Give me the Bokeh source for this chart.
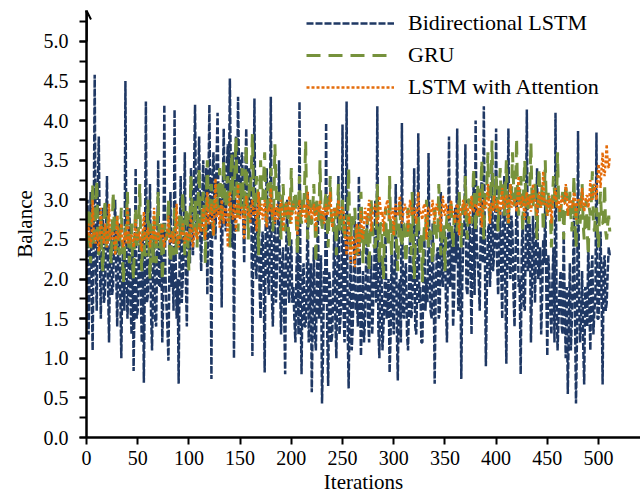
from bokeh.plotting import figure
from bokeh.models import (Range1d, SingleIntervalTicker, PrintfTickFormatter, Arrow,
                          OpenHead, Legend, LegendItem)
from bokeh.embed import file_html
from bokeh.resources import INLINE

# ---------------- data (one value per iteration) ----------------
bilstm = [
    2.5, 3.0, 1.3, 2.0, 3.1, 1.9, 1.1, 2.6, 4.58, 2.2, 1.6, 3.1, 3.8, 2.4, 1.5, 2.7,
    2.9, 1.7, 1.8, 2.5, 3.3, 2.0, 1.2, 2.3, 2.6, 1.8, 1.9, 2.6, 3.0, 2.1, 1.4, 2.4,
    2.7, 1.8, 1.0, 2.2, 2.4, 1.6, 4.5, 2.3, 1.5, 2.0, 2.9, 1.7, 1.3, 2.4, 0.84, 1.9,
    3.4, 1.5, 1.6, 2.2, 2.5, 1.8, 1.2, 2.5, 0.69, 2.1, 4.24, 1.7, 1.8, 2.4, 3.2, 1.6,
    1.1, 2.0, 2.6, 1.5, 1.4, 2.3, 3.5, 1.9, 1.9, 2.6, 1.2, 1.8, 4.2, 2.1, 1.7, 1.4,
    0.97, 2.2, 3.1, 1.9, 2.2, 1.6, 4.14, 2.3, 1.5, 2.0, 0.68, 2.4, 3.3, 1.7, 2.0, 2.5,
    3.6, 2.0, 1.4, 2.6, 2.8, 2.2,
    3.4, 2.9, 2.3, 3.3, 4.2, 2.7, 2.7, 3.2, 3.8, 2.6, 2.1, 3.0, 3.5, 2.8, 2.9, 3.4,
    1.8, 3.1, 4.2, 2.7, 0.74, 3.3, 3.6, 2.9, 2.5, 3.5, 4.1, 2.8, 3.0, 3.2, 1.64, 3.0,
    3.9, 2.9, 2.6, 3.4, 3.7, 3.0, 4.53, 3.2, 2.4, 3.6, 1.0, 2.9, 3.8, 3.1, 4.3, 3.3,
    2.8, 3.5, 3.6, 2.8, 2.2, 3.2, 3.9, 3.0, 2.7, 3.4, 3.3, 2.9,
    1.03, 2.6, 4.28, 2.2, 2.0, 2.8, 3.1, 1.9, 1.5, 2.4, 2.6, 2.0, 0.82, 2.7, 3.4, 2.1,
    1.8, 2.5, 4.3, 1.8, 1.4, 2.3, 2.9, 1.7, 2.1, 2.6, 3.5, 2.0, 1.3, 2.2, 2.4, 1.6,
    0.8, 2.4, 3.0, 1.9, 1.7, 2.3, 2.5, 1.7,
    1.9, 1.5, 1.2, 2.1, 2.6, 1.3, 4.24, 1.8, 0.8, 2.0, 2.2, 1.4, 1.4, 1.9, 3.1, 1.2,
    1.6, 2.2, 0.57, 1.6, 2.4, 1.3, 1.1, 2.0, 2.9, 1.5, 1.7, 2.3, 0.43, 1.1, 2.1, 1.7,
    3.97, 1.4, 0.65, 2.1, 1.9, 1.2, 1.3, 1.9, 2.7, 1.5, 1.0, 2.2, 3.3, 1.3, 1.5, 1.8,
    3.95, 1.6, 1.2, 2.0, 4.24, 1.4, 0.62, 1.7, 2.3, 1.1, 1.4, 2.1, 2.8, 1.6,
    1.8, 1.4, 3.3, 2.0, 1.03, 1.6, 2.1, 1.2, 1.5, 2.2, 2.8, 1.5, 1.2, 1.9, 2.3, 1.3,
    1.7, 2.1, 3.0, 1.7, 4.18, 1.4, 1.0, 2.3, 2.2, 1.1, 1.4, 1.8, 2.6, 1.5, 1.6, 2.0,
    0.82, 1.3, 2.4, 1.7, 1.3, 2.2, 3.2, 1.4, 0.72, 1.9, 2.0, 1.2, 3.97, 1.6, 1.5, 2.1,
    2.2, 1.3, 1.1, 1.8, 2.7, 1.5, 1.6, 2.2, 3.4, 1.4, 1.3, 1.9, 3.84, 1.7, 1.9, 1.2,
    1.2, 2.0, 2.5, 1.6,
    2.0, 1.7, 3.59, 2.2, 1.6, 1.5, 2.7, 2.0, 0.68, 1.8, 2.3, 2.4, 1.5, 1.6, 3.1, 2.1,
    1.9, 2.5, 2.6, 1.7, 1.2, 2.3, 3.8, 1.9, 2.1, 2.6, 1.4, 1.8, 2.9, 2.2, 3.9, 1.6,
    1.7, 2.4, 0.74, 2.0, 2.5, 2.7, 3.7, 1.9, 1.8, 2.3, 2.8, 2.1, 1.3, 2.6, 3.2, 1.8,
    4.0, 2.5, 2.2, 2.0, 1.6, 2.8, 3.4, 2.2, 4.18, 2.4, 0.9, 1.9, 2.6, 2.7, 1.9, 2.3,
    3.5, 2.1, 2.3, 2.6, 3.9, 2.2,
    1.8, 2.4, 2.9, 2.1, 1.5, 2.7, 3.3, 1.9, 0.93, 2.5, 3.9, 2.2, 2.0, 2.8, 2.6, 1.8,
    1.4, 2.3, 3.1, 2.6, 1.9, 2.0, 0.8, 2.4, 2.7, 1.7, 1.6, 2.5, 4.14, 2.1, 2.2, 2.7,
    1.2, 1.9, 2.8, 2.3, 1.7, 2.6, 3.4, 2.0, 2.1, 2.4, 1.3, 1.8, 2.5, 2.2, 3.0, 1.9,
    1.03, 2.3,
    2.0, 1.6, 1.3, 2.0, 2.4, 1.2, 4.1, 1.8, 1.1, 1.5, 1.9, 2.1, 1.4, 1.3, 2.6, 1.7,
    1.0, 1.9, 0.55, 1.4, 2.2, 1.1, 1.5, 2.0, 2.8, 1.6, 0.43, 1.3, 3.87, 1.8, 1.2, 1.5,
    2.1, 1.2, 0.67, 1.9, 1.8, 1.4, 2.5, 1.7, 1.1, 2.1, 2.3, 1.3, 1.6, 1.8, 3.85, 1.5,
    1.5, 2.0, 2.6, 1.8, 0.67, 2.2, 2.3, 1.6, 1.7, 2.1, 2.4, 2.3,
]

gru = [
    2.4, 2.7, 2.9, 2.5, 2.2, 2.8, 3.2, 2.4, 2.6, 2.9, 3.25, 2.6, 2.3, 2.5, 2.8, 2.3,
    2.1, 2.7, 3.0, 2.4, 2.5, 2.8, 2.7, 2.5, 2.2, 2.6, 3.1, 2.7, 2.4, 2.3, 2.8, 2.6,
    2.3, 2.6, 2.9, 2.4, 1.95, 2.3, 2.6, 2.7, 3.1, 2.5, 2.2, 2.4, 2.7, 2.2, 2.0, 2.6,
    2.9, 2.5, 2.4, 2.7, 3.2, 2.4, 2.1, 2.6, 2.6, 2.3, 2.3, 2.5, 3.0, 2.4, 2.0, 2.7,
    2.5, 2.2, 2.8, 2.5, 2.2, 2.6, 3.1, 2.4, 2.4, 2.7, 1.98, 2.3, 2.7, 2.5, 2.5, 2.6,
    3.0, 2.4, 2.2, 2.5, 2.6, 2.3, 2.9, 2.6, 2.3, 2.5, 2.7, 2.8,
    2.5, 2.7, 3.1, 2.6, 2.3, 2.8, 2.9, 2.5, 2.1, 2.7, 3.3, 2.9, 2.7, 2.6, 3.0, 2.8,
    2.4, 3.0, 3.4, 2.7, 2.6, 2.9, 3.1, 2.8, 2.2, 3.0, 3.5, 2.9, 2.8, 3.1, 3.2, 2.8,
    2.5, 3.0, 3.0, 3.2, 2.9, 2.9, 3.4, 3.1,
    2.7, 3.1, 3.5, 3.0, 2.9, 3.2, 3.3, 2.9, 2.4, 3.3, 3.6, 3.1, 3.0, 3.4, 3.8, 3.0,
    2.6, 3.2, 3.2, 2.9, 3.4, 3.1, 2.8, 3.3, 3.7, 3.0, 2.5, 3.2, 3.1, 3.4, 3.83, 3.1,
    2.9, 3.0, 3.3, 3.2, 2.3, 2.9, 3.5, 3.1, 3.0, 3.3, 3.6, 3.0, 2.7, 3.2, 3.2, 2.9,
    3.4, 3.1, 2.6, 3.0, 3.7, 3.2, 2.9, 2.8, 3.1, 3.0, 2.5, 2.9,
    3.2, 2.9, 2.6, 3.0, 3.0, 2.7, 2.4, 2.9, 3.4, 2.8, 2.8, 3.1, 3.1, 2.7, 2.3, 2.9,
    3.3, 2.8, 2.7, 3.0, 2.9, 3.2, 3.74, 2.9, 2.5, 2.8, 3.0, 2.7, 2.7, 2.9, 3.2, 2.8,
    2.2, 3.0, 2.9, 2.7, 3.5, 2.9, 2.6, 2.8, 2.8, 3.0, 3.1, 2.7, 2.4, 2.9, 3.3, 2.8,
    2.7, 2.6, 2.9, 2.8, 2.3, 2.9, 3.2, 2.7, 2.6, 2.8, 3.0, 2.6, 2.5, 2.8, 2.8, 2.7,
    3.4, 2.6, 2.4, 2.8, 2.7, 2.7,
    2.9, 2.6, 2.3, 2.5, 2.7, 2.4, 3.1, 2.7, 2.2, 2.6, 2.6, 2.4, 2.8, 2.5, 2.1, 2.6,
    3.0, 2.7, 2.5, 2.4, 2.4, 2.6, 3.2, 2.5, 2.2, 2.7, 2.7, 2.3, 2.0, 2.6, 2.9, 2.5,
    2.6, 2.4, 3.3, 2.6, 2.3, 2.7, 2.5, 2.5, 2.8, 2.4, 2.1, 2.6, 3.0, 2.5, 2.4, 2.7,
    2.7, 2.4, 2.2, 2.6, 2.9, 2.5, 2.6, 2.3, 3.1, 2.6, 2.0, 2.4, 2.5, 2.7, 2.8, 2.5,
    2.3, 2.6, 1.96, 2.4, 2.7, 2.5, 3.0, 2.7, 2.4, 2.6, 2.6, 2.4, 2.2, 2.5, 2.9, 2.7,
    2.5, 2.6, 3.2, 2.8, 2.3, 2.5, 2.7, 2.7, 2.1, 2.6, 2.8, 2.8, 2.6, 2.7, 3.0, 2.6,
    2.4, 2.8, 2.7, 2.7,
    2.6, 2.8, 3.1, 2.7, 2.4, 2.9, 2.9, 2.8, 3.3, 2.7, 2.5, 3.0, 3.0, 2.8, 2.7, 2.9,
    3.4, 3.0, 2.6, 2.9, 3.2, 2.8, 2.8, 3.1, 3.5, 2.9, 2.5, 3.0, 3.1, 3.2, 3.6, 2.9,
    2.7, 3.1, 3.75, 3.0, 2.9, 3.2, 3.3, 2.9, 2.6, 3.1, 3.4, 3.0, 3.0, 3.2, 2.8, 3.1,
    3.5, 2.9, 2.7, 3.1, 3.2, 3.0, 3.6, 3.2, 2.9, 3.1, 3.78, 3.0,
    2.8, 3.1, 3.3, 3.0, 2.6, 3.2, 3.5, 2.9, 3.1, 3.0, 2.7, 3.2, 3.72, 3.0, 2.9, 3.1,
    3.2, 2.8, 2.5, 3.1, 3.4, 2.9, 3.0, 3.2, 2.6, 3.0, 3.5, 2.9, 2.8, 3.1, 3.1, 2.8,
    2.4, 3.0, 3.3, 3.1, 2.9, 2.9, 3.6, 3.0, 2.7, 2.8, 3.0, 3.1, 2.5, 2.9, 3.2, 3.0,
    2.8, 2.9,
    3.1, 2.8, 2.6, 2.9, 3.3, 2.7, 2.4, 2.8, 2.9, 3.0, 2.7, 2.9, 3.2, 2.7, 2.5, 2.8,
    3.0, 2.6, 2.3, 2.9, 2.8, 3.0, 3.36, 2.7, 2.6, 2.8, 2.9, 2.6, 2.4, 2.9, 3.1, 2.7,
    2.7, 2.8, 3.2, 2.6, 2.5, 2.7, 2.8, 2.6,
]

attention = [
    2.5, 2.6, 2.7, 2.5, 2.4, 2.55, 3.0, 2.6, 2.5, 2.45, 2.6, 2.5, 2.35, 2.6, 2.9, 2.55,
    2.5, 2.45, 2.7, 2.6, 2.4, 2.5, 2.95, 2.55, 2.5, 2.6, 2.6, 2.45, 2.3, 2.55, 2.8, 2.5,
    2.5, 2.6, 2.7, 2.5, 2.4, 2.55, 2.6, 2.45, 2.9, 2.6, 2.45, 2.55, 2.55, 2.5, 2.4, 2.6,
    2.75, 2.5, 2.5, 2.55, 2.6, 2.45, 2.35, 2.6, 2.85, 2.5, 2.5, 2.55, 2.65, 2.5, 2.4, 2.6,
    2.55, 2.5, 2.9, 2.6, 2.45, 2.55, 2.6, 2.5, 2.5, 2.6, 2.7, 2.5, 2.4, 2.55, 2.55, 2.6,
    2.8, 2.5, 2.45, 2.55, 2.6, 2.45, 2.5, 2.6, 2.95, 2.5, 2.4, 2.55, 2.55, 2.6, 2.7, 2.5,
    2.45, 2.55, 2.6, 2.5, 2.5, 2.6, 2.8, 2.5, 2.4, 2.55, 2.65, 2.6, 2.5, 2.55, 2.7, 2.6,
    2.6, 2.7, 2.9, 2.65, 2.5, 2.8, 3.1, 2.7, 2.7, 2.85, 2.95, 2.75, 2.55, 2.9, 3.27, 2.8,
    2.8, 2.9, 2.65, 2.85,
    3.0, 2.85, 2.7, 2.9, 2.9, 2.8, 2.4, 2.85, 3.1, 2.9, 2.8, 2.75, 2.95, 2.85, 2.6, 2.95,
    3.2, 2.8, 2.75, 2.9, 2.9, 2.85, 2.5, 2.8, 3.05, 2.9, 2.8, 2.85, 2.7, 2.95, 3.0, 2.8,
    2.85, 2.9, 2.6, 2.85, 3.1, 2.8, 2.9, 2.95, 2.75, 2.85, 3.0, 2.8, 2.65, 2.9, 2.9, 2.85,
    3.15, 2.8, 2.8, 2.9, 2.7, 2.85, 2.95, 2.75, 2.85, 2.9, 3.0, 2.85, 2.6, 2.8, 2.9, 2.95,
    2.8, 2.85, 3.05, 2.8, 2.7, 2.9, 2.95, 2.85, 2.85, 2.75, 2.55, 2.9, 3.0, 2.85, 2.8, 2.8,
    2.9, 2.95, 2.7, 2.85, 3.1, 2.8, 2.85, 2.9, 2.75, 2.85, 2.95, 2.8, 2.6, 2.9, 2.9, 2.85,
    3.0, 2.75, 2.8, 2.9, 2.7, 2.85, 2.95, 2.8, 2.85, 2.95, 3.1, 2.85, 2.65, 2.8, 2.9, 2.9,
    2.8, 2.85, 3.0, 2.8, 2.75, 2.9, 2.9, 2.85,
    2.6, 2.5, 2.3, 2.6, 2.8, 2.4, 2.2, 2.55, 2.5, 2.35, 2.15, 2.5, 2.7, 2.4, 2.3, 2.6,
    2.86, 2.55, 2.5, 2.7,
    2.9, 2.8, 2.7, 2.85, 3.0, 2.9, 2.6, 2.8, 2.85, 2.9, 2.95, 2.85, 2.7, 2.8, 3.05, 2.9,
    2.8, 2.85, 2.6, 2.8, 2.9, 2.95, 3.0, 2.85, 2.75, 2.8, 2.85, 2.9, 2.55, 2.85, 2.95, 2.8,
    2.8, 2.9, 3.05, 2.85, 2.7, 2.8, 2.9, 2.95, 2.85, 2.85, 2.6, 2.8, 3.0, 2.9, 2.8, 2.85,
    2.9, 2.8, 2.7, 2.9, 3.1, 2.85, 2.85, 2.8, 2.75, 2.9, 2.95, 2.85, 2.5, 2.8, 2.9, 2.9,
    2.8, 2.85, 3.0, 2.8, 2.7, 2.9, 2.95, 2.85, 2.85, 2.8, 2.6, 2.9, 3.05, 2.85, 2.8, 2.95,
    2.9, 2.8, 2.75, 2.9, 3.0, 2.85, 2.85, 2.8, 2.7, 2.9, 2.95, 2.85, 2.55, 2.8, 2.9, 2.9,
    3.0, 2.85, 2.8, 2.95, 2.9, 2.85, 2.7, 2.9, 3.05, 2.85, 2.85, 2.9, 2.95, 2.9,
    2.8, 2.9, 3.1, 2.85, 2.65, 2.95, 3.0, 2.9, 2.9, 3.0, 3.2, 2.9, 2.7, 2.95, 2.95, 2.85,
    3.05, 2.95, 2.85, 2.9,
    3.0, 2.95, 2.8, 3.0, 3.15, 2.9, 2.9, 3.05, 3.05, 2.95, 2.7, 3.0, 3.2, 2.9, 2.95, 3.0,
    3.0, 2.95, 2.85, 3.05, 3.3, 2.95, 2.9, 3.0, 3.05, 2.9, 2.75, 3.0, 3.1, 2.95, 2.95, 3.05,
    2.85, 2.95, 3.2, 3.0, 3.0, 2.9, 2.8, 3.0, 3.1, 2.95, 2.9, 3.05, 3.36, 2.95, 2.95, 3.0,
    2.8, 2.9, 3.05, 3.0, 2.7, 2.95, 3.0, 3.05, 3.15, 2.95, 2.9, 3.0, 2.85, 2.9, 3.05, 3.0,
    2.95, 2.95, 3.2, 3.05, 2.8, 2.95, 3.0, 3.0, 2.9, 2.95, 3.1, 3.05, 2.75, 2.95, 3.0, 3.0,
    2.95, 2.9, 3.15, 3.0, 2.85, 2.95, 3.05, 3.05, 2.9, 3.0, 3.25, 3.05, 3.0, 3.1,
    3.2, 3.1, 3.0, 3.25, 3.45, 3.3, 3.15, 3.4, 3.6, 3.35, 3.3, 3.5, 3.7, 3.45, 3.4, 3.55,
]

x_bilstm = list(range(len(bilstm)))
x_gru = list(range(len(gru)))
x_att = list(range(len(attention)))

labels = ["Bidirectional LSTM", "GRU", "LSTM with Attention"]
x_ticks_interval = 50
y_ticks_interval = 0.5

FONT = "'Liberation Serif', 'Times New Roman', Times, serif"
NAVY = "#1F3864"
GREEN = "#76923C"
ORANGE = "#E46C0A"

Y_END = 5.39
X_END = 541

p = figure(width=640, height=496, output_backend="svg", toolbar_location=None,
           x_range=Range1d(0, X_END), y_range=Range1d(0, Y_END),
           min_border_left=86, min_border_right=0, min_border_top=10, min_border_bottom=59)
p.outline_line_color = None
p.grid.visible = False
p.background_fill_color = "white"

r1 = p.line(x_bilstm, bilstm, line_color=NAVY, line_width=2.5, line_dash="7 2")
r2 = p.line(x_gru, gru, line_color=GREEN, line_width=3, line_dash="14 8")
r3 = p.line(x_att, attention, line_color=ORANGE, line_width=2.4, line_dash="3 2")

# axes
xa = p.xaxis[0]
xa.ticker = SingleIntervalTicker(interval=x_ticks_interval, num_minor_ticks=0)
xa.axis_label = "Iterations"
ya = p.yaxis[0]
ya.ticker = SingleIntervalTicker(interval=y_ticks_interval, num_minor_ticks=2)
ya.formatter = PrintfTickFormatter(format="%.1f")
ya.axis_label = "Balance"
for ax in (xa, ya):
    ax.axis_line_width = 2.5
    ax.axis_line_color = "black"
    ax.major_tick_line_color = "black"
    ax.major_tick_line_width = 2
    ax.major_tick_in = 0
    ax.major_tick_out = 7
    ax.minor_tick_line_color = "black"
    ax.minor_tick_line_width = 2
    ax.minor_tick_in = 0
    ax.minor_tick_out = 7
    ax.major_label_text_font = FONT
    ax.major_label_text_font_size = "20px"
    ax.major_label_text_color = "black"
    ax.axis_label_text_font = FONT
    ax.axis_label_text_font_size = "21px"
    ax.axis_label_text_font_style = "normal"
    ax.axis_label_text_color = "black"
xa.major_label_standoff = 6
xa.axis_label_standoff = 2
ya.major_label_standoff = 11
ya.axis_label_standoff = 4

# arrow on top of y axis
p.add_layout(Arrow(end=OpenHead(size=9, line_width=2, line_color="black"),
                   x_start=0, y_start=5.0, x_end=0, y_end=Y_END,
                   line_width=2.5, line_color="black"))

legend = Legend(items=[LegendItem(label=labels[0], renderers=[r1]),
                       LegendItem(label=labels[1], renderers=[r2]),
                       LegendItem(label=labels[2], renderers=[r3])],
                location="top_right", margin=0, padding=2, spacing=6,
                glyph_width=88, glyph_height=26, label_height=26, label_width=232,
                label_standoff=14, label_text_font=FONT, label_text_font_size="22px",
                label_text_color="black", border_line_color=None, background_fill_alpha=0)
p.add_layout(legend)

open("out.html", "w").write(file_html(p, INLINE))
